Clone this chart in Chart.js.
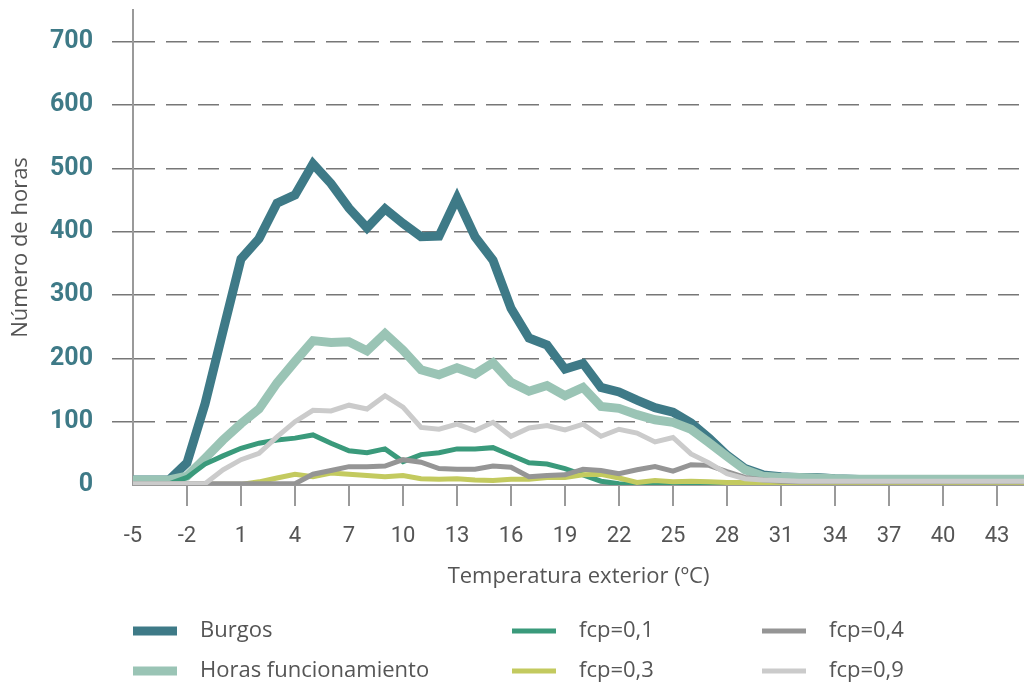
<!DOCTYPE html>
<html><head><meta charset="utf-8">
<script src="https://cdn.jsdelivr.net/npm/chart.js@4.4.1/dist/chart.umd.min.js"></script>
<style>html,body{margin:0;padding:0;background:#fff}</style>
</head><body>
<canvas id="c" width="1024" height="684"></canvas>
<script>
const temps = [-5,-4,-3,-2,-1,0,1,2,3,4,5,6,7,8,9,10,11,12,13,14,15,16,17,18,19,20,21,22,23,24,25,26,27,28,29,30,31,32,33,34,35,36,37,38,39,40,41,42,43,44,45];
const burgos = [8,8,8,35,128,243,357,389,445,458,507,476,437,406,436,413,392,393,453,392,355,279,232,221,183,192,154,147,134,122,115,98,74,47,26,16,13,12,12,10,9,8,8,8,8,8,8,8,8,8,8];
const horas = [8,8,8,14,42,71,97,120,161,195,228,225,226,212,239,213,182,174,185,175,193,162,148,157,141,154,124,121,111,103,99,88,67,45,24,14,12,12,11,10,9,9,9,9,9,9,9,9,9,9,9];
const fcp01 = [2,2,2,12,33,46,58,66,71,74,79,66,54,51,57,37,48,51,57,57,59,47,35,33,26,16,6,2,1,1,1,1,1,1,1,1,1,1,1,1,1,1,1,1,1,1,1,1,1,1,1];
const fcp03 = [1,1,1,1,1,1,1,5,11,17,13,19,17,15,13,15,10,9,10,8,7,9,9,12,12,16,17,11,4,7,5,6,5,4,4,3,3,3,3,3,3,3,3,3,3,3,3,3,3,3,3];
const fcp04 = [2,2,2,2,2,2,2,2,2,2,17,23,29,29,30,40,36,26,25,25,30,28,13,15,16,25,23,18,24,29,22,32,31,21,12,8,6,5,5,5,5,5,5,5,5,5,5,5,5,5,5];
const fcp09 = [2,2,2,2,2,24,40,50,76,100,118,117,126,120,141,123,91,88,96,86,99,77,90,94,87,96,77,88,82,68,75,49,35,18,10,8,7,6,6,6,6,6,6,6,6,6,6,6,6,6,6];
const xTicks = [-5,-2,1,4,7,10,13,16,19,22,25,28,31,34,37,40,43];
const yTicks = [0,100,200,300,400,500,600,700];
const seriesLabels = ['Burgos','Horas funcionamiento','fcp=0,1','fcp=0,3','fcp=0,4','fcp=0,9'];

const pts = arr => temps.map((t,i)=>({x:t,y:arr[i]}));
const FONT = 'Roboto';
const TFONT = '"Open Sans"';

const legendPos = [[133,631],[133,671],[512,631],[512,671],[762,631],[762,671]];
const legendPlugin = {
  id:'customLegend',
  afterDraw(chart){
    const ctx = chart.ctx;
    chart.data.datasets.forEach((ds,i)=>{
      const [x,y] = legendPos[i];
      ctx.save();
      ctx.strokeStyle = ds.borderColor;
      ctx.lineWidth = ds.borderWidth;
      ctx.beginPath(); ctx.moveTo(x,y); ctx.lineTo(x+44,y); ctx.stroke();
      ctx.fillStyle = '#555';
      ctx.font = '22px ' + TFONT;
      ctx.textBaseline = 'middle';
      ctx.fillText(ds.label, x+67, y);
      ctx.restore();
    });
  }
};

const mk = (label, data, color, width, order) => ({
  label, data: pts(data), borderColor: color, backgroundColor: color,
  borderWidth: width, pointRadius: 0, tension: 0, fill: false, order,
  borderJoinStyle: 'miter', borderCapStyle: 'butt'
});

new Chart(document.getElementById('c'), {
  type: 'line',
  data: {
    datasets: [
      mk(seriesLabels[0], burgos, '#3e7a87', 9, 6),
      mk(seriesLabels[1], horas, '#9ac4b5', 9, 5),
      mk(seriesLabels[2], fcp01, '#3a9a7b', 5, 4),
      mk(seriesLabels[3], fcp03, '#c3ca5f', 5, 3),
      mk(seriesLabels[4], fcp04, '#959595', 5, 2),
      mk(seriesLabels[5], fcp09, '#cbcbcb', 5, 1)
    ]
  },
  options: {
    responsive: false,
    animation: false,
    devicePixelRatio: 1,
    layout: { padding: { top: 10, right: 0, left: 0, bottom: 94 } },
    plugins: { legend: { display: false }, tooltip: { enabled: false } },
    scales: {
      x: {
        type: 'linear', min: -5, max: 44.5,
        afterBuildTicks: s => { s.ticks = xTicks.map(v => ({value: v})); },
        afterFit: s => { s.height = 105; s.paddingLeft = 0; s.paddingRight = 0; },
        grid: {
          drawOnChartArea: false, drawTicks: true, tickLength: 21,
          lineWidth: 2,
          color: ctx => ctx.index === 0 ? 'rgba(0,0,0,0)' : '#9a9a9a',
          tickColor: ctx => ctx.index === 0 ? 'rgba(0,0,0,0)' : '#9a9a9a'
        },
        border: { display: true, color: '#9a9a9a', width: 2 },
        ticks: { padding: 17, color: '#555', font: { family: FONT, size: 22 }, maxRotation: 0, autoSkip: false },
        title: { display: true, text: 'Temperatura exterior (ºC)', color: '#555',
                 font: { family: TFONT, size: 22 }, padding: { top: 15, bottom: 0 } }
      },
      y: {
        type: 'linear', min: 0, max: 750,
        afterBuildTicks: s => { s.ticks = yTicks.map(v => ({value: v})); },
        afterFit: s => { s.width = 133; s.paddingTop = 0; s.paddingBottom = 0; },
        grid: {
          drawOnChartArea: true, drawTicks: true, tickLength: 21, lineWidth: 1.5,
          color: ctx => ctx.tick && ctx.tick.value === 0 ? 'rgba(0,0,0,0)' : '#777',
          tickColor: ctx => ctx.tick && ctx.tick.value === 0 ? 'rgba(0,0,0,0)' : '#777',
          tickWidth: 1.5, tickBorderDash: []
        },
        border: { display: true, color: '#9a9a9a', width: 2, dash: [21, 11] },
        ticks: { padding: 19, color: '#3e7a87', font: { family: FONT, size: 25, weight: 'bold' } },
        title: { display: true, text: 'Número de horas', color: '#555',
                 font: { family: TFONT, size: 22 }, padding: { top: 8, bottom: 0 } }
      }
    }
  },
  plugins: [legendPlugin]
});
</script>
</body></html>
